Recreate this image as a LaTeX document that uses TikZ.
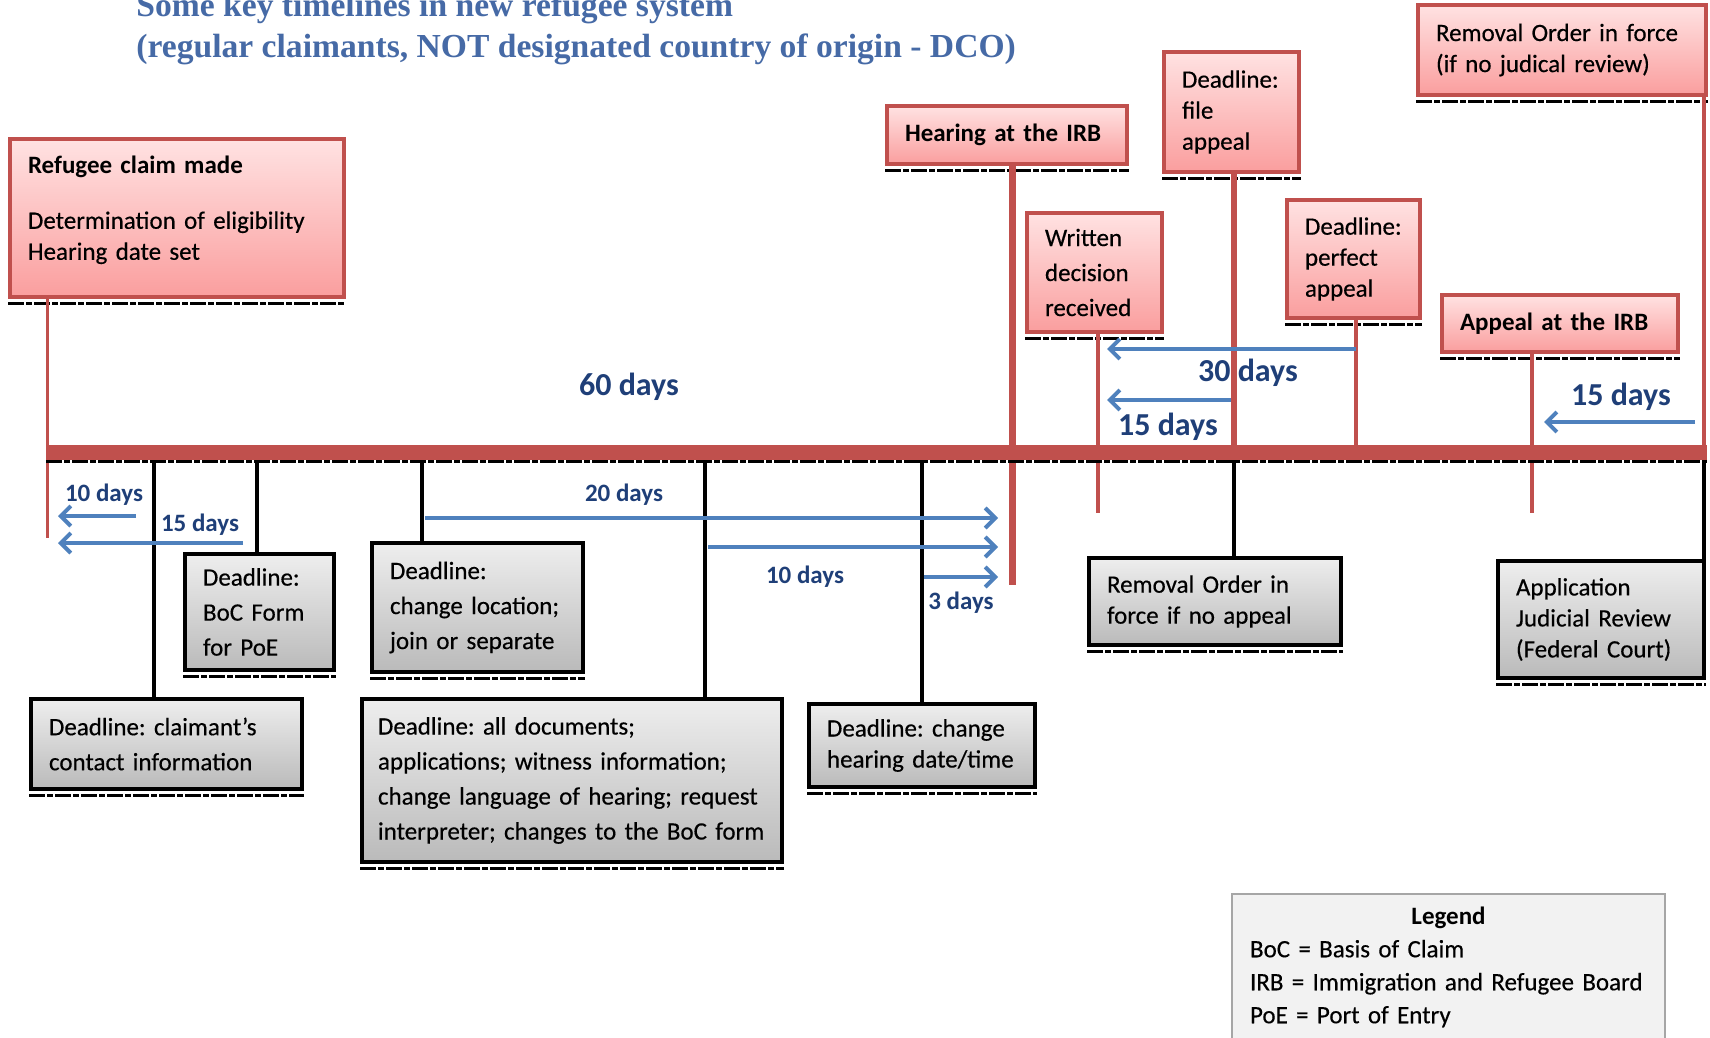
\documentclass[tikz,border=0pt]{standalone}
\usepackage{fontspec}
\setmainfont{Carlito}[UprightFeatures={FakeBold=0.4}]
\newfontfamily\titlefont{Liberation Serif}
\usetikzlibrary{arrows.meta}

\definecolor{irbred}{RGB}{192,80,77}
\definecolor{pinktop}{RGB}{255,226,226}
\definecolor{pinkbot}{RGB}{250,158,158}
\definecolor{greytop}{RGB}{238,238,238}
\definecolor{greybot}{RGB}{186,186,186}
\definecolor{arrowblue}{RGB}{79,129,189}
\definecolor{daysblue}{RGB}{31,63,120}
\definecolor{titleblue}{RGB}{70,106,166}
\definecolor{legendgrey}{RGB}{166,166,166}
\definecolor{legendfill}{RGB}{242,242,242}

\begin{document}
\begin{tikzpicture}[x=0.5pt,y=-0.5pt,
	underdash/.style={draw=black,line width=1.5pt,dash pattern=on 8pt off 1pt on 3pt off 1pt},
	event/.style={rectangle,line width=1.75pt,inner xsep=9pt,align=left,
		font=\fontsize{12.5}{15.5}\selectfont,
		execute at begin node={\frenchspacing\hyphenpenalty=10000\exhyphenpenalty=10000},
		append after command={([yshift=-2.25pt]\tikzlastnode.south west) edge[underdash] ([yshift=-2.25pt]\tikzlastnode.south east)}},
	redbox/.style={event,draw=irbred,top color=pinktop,bottom color=pinkbot},
	greybox/.style={event,draw=black,top color=greytop,bottom color=greybot},
	airy/.style={font=\fontsize{12.5}{17.5}\selectfont},
	redline/.style={draw=irbred,line width=2pt},
	blackline/.style={draw=black,line width=2pt},
	spanarrow/.style={draw=arrowblue,line width=2pt,-{Straight Barb[length=5pt,width=10pt]}},
	days/.style={text=daysblue,font=\fontsize{12.5}{15}\bfseries},
	bigdays/.style={text=daysblue,font=\fontsize{16}{19}\bfseries},
	heading/.style={anchor=base west,inner sep=0pt,text=titleblue,font=\titlefont\fontsize{16.8}{20}\bfseries}]
	\useasboundingbox (0,0) rectangle (1710,1038);

	\node (title) [heading] at (136,17) {Some key timelines in new refugee system};
	\node (subtitle) [heading] at (136,58) {(regular claimants, NOT designated country of origin - DCO)};

	\coordinate (barL) at (46,452);
	\coordinate (barR) at (1707,452);
	\coordinate (claim) at (47,452);
	\coordinate (contactd) at (154,452);
	\coordinate (bocd) at (257,452);
	\coordinate (locd) at (422,452);
	\coordinate (docsd) at (705,452);
	\coordinate (dated) at (922,452);
	\coordinate (hear) at (1012,452);
	\coordinate (written) at (1098,452);
	\coordinate (fileap) at (1234,452);
	\coordinate (perfect) at (1356,452);
	\coordinate (appeal) at (1532,452);
	\coordinate (jr) at (1704,452);

	\node (claimbox) [redbox,text width=149pt,minimum height=79pt] at (177,218)
		{\textbf{Refugee claim made}\\[12pt]Determination of eligibility\\Hearing date set\\[-5.5pt]\mbox{}};
	\node (hearbox) [redbox,text width=102pt,minimum height=29pt] at (1007,135) {\textbf{Hearing at the IRB}};
	\node (filebox) [redbox,text width=49.5pt,minimum height=60pt] at (1231.5,112) {Deadline:\\file\\appeal};
	\node (writbox) [redbox,airy,text width=49.5pt,minimum height=59.5pt] at (1094.5,272.5) {Written\\decision\\received};
	\node (perfbox) [redbox,text width=48.5pt,minimum height=59pt] at (1353.5,259) {Deadline:\\perfect\\appeal};
	\node (appbox) [redbox,text width=100pt,minimum height=28.5pt] at (1560,323.5) {\textbf{Appeal at the IRB}};
	\node (rotop) [redbox,text width=126pt,minimum height=45pt] at (1562,50) {Removal Order in force\\(if no judical review)};

	\node (contactbox) [greybox,airy,text width=117.5pt,minimum height=45pt] at (166.5,744) {Deadline: claimant's\\contact information};
	\node (bocbox) [greybox,airy,text width=56.5pt,minimum height=58pt] at (259.5,612) {Deadline:\\BoC Form\\for PoE};
	\node (locbox) [greybox,airy,text width=87.5pt,minimum height=64.5pt] at (477.5,607.5) {Deadline:\\change location;\\join or separate};
	\node (docsbox) [greybox,airy,text width=194pt,inner xsep=8pt,minimum height=81.5pt] at (572,780.5)
		{Deadline: all documents;\\applications; witness information;\\change language of hearing; request\\interpreter; changes to the BoC form};
	\node (datebox) [greybox,text width=95pt,minimum height=41.5pt] at (922,745.5) {Deadline: change\\hearing date/time};
	\node (rofbox) [greybox,text width=108pt,minimum height=43.5pt] at (1215,601.5) {Removal Order in\\force if no appeal};
	\node (jrbox) [greybox,text width=85pt,minimum height=58.5pt] at (1601,619.5) {Application\\Judicial Review\\(Federal Court)};

	\node (legend) [draw=legendgrey,fill=legendfill,line width=1pt,text width=198.5pt,inner xsep=9pt,minimum height=73pt,
		align=left,font=\fontsize{12.5}{16.5}\selectfont] at (1448.5,967)
		{\makebox[\linewidth]{\textbf{Legend}}\\BoC = Basis of Claim\\IRB = Immigration and Refugee Board\\PoE = Port of Entry};

	\node (sixty) [bigdays] at (629,387) {60 days};
	\node (thirty) [bigdays] at (1248,373) {30 days};
	\node (fifteenb) [bigdays] at (1168,427) {15 days};
	\node (fifteenc) [bigdays] at (1621,397) {15 days};
	\node (tena) [days] at (104,495) {10 days};
	\node (fifteena) [days] at (200,525) {15 days};
	\node (twenty) [days] at (624,495) {20 days};
	\node (tenb) [days] at (805,577) {10 days};
	\node (three) [days] at (961,603) {3 days};

	\draw[redline,line width=1.5pt] (claim |- claimbox.south) -- (claim |- 0,538);
	\draw[redline,line width=3.5pt] (hear |- hearbox.south) -- (hear |- 0,585);
	\draw[redline] (written |- writbox.south) -- (written |- 0,513);
	\draw[redline,line width=2.75pt] (fileap |- filebox.south) -- (fileap);
	\draw[redline] (perfect |- perfbox.south) -- (perfect);
	\draw[redline] (appeal |- appbox.south) -- (appeal |- 0,513);
	\draw[redline] (jr |- rotop.south) -- (jr);

	\draw[blackline] (contactd) -- (contactd |- contactbox.north);
	\draw[blackline] (bocd) -- (bocd |- bocbox.north);
	\draw[blackline] (locd) -- (locd |- locbox.north);
	\draw[blackline] (docsd) -- (docsd |- docsbox.north);
	\draw[blackline] (dated) -- (dated |- datebox.north);
	\draw[blackline] (fileap) -- (fileap |- rofbox.north);
	\draw[blackline] (jr) -- (jr |- jrbox.north);

	\draw[draw=irbred,line width=7.5pt] (barL) -- (barR);
	\draw[underdash] ([yshift=-4.75pt]barL) -- ([yshift=-4.75pt]barR);

	\draw[spanarrow,shorten <=9pt,shorten >=5.5pt] (contactd |- 0,516) -- (claim |- 0,516);
	\draw[spanarrow,shorten <=7pt,shorten >=5.5pt] (bocd |- 0,543) -- (claim |- 0,543);
	\draw[spanarrow,shorten <=1.5pt,shorten >=7pt] (locd |- 0,518) -- (hear |- 0,518);
	\draw[spanarrow,shorten <=1.5pt,shorten >=7pt] (docsd |- 0,547) -- (hear |- 0,547);
	\draw[spanarrow,shorten <=1pt,shorten >=7pt] (dated |- 0,577) -- (hear |- 0,577);
	\draw[spanarrow,shorten >=4.5pt] (perfect |- 0,349) -- (written |- 0,349);
	\draw[spanarrow,shorten <=1.5pt,shorten >=4.5pt] (fileap |- 0,400) -- (written |- 0,400);
	\draw[spanarrow,shorten <=4.5pt,shorten >=6pt] (jr |- 0,422) -- (appeal |- 0,422);
\end{tikzpicture}
\end{document}
